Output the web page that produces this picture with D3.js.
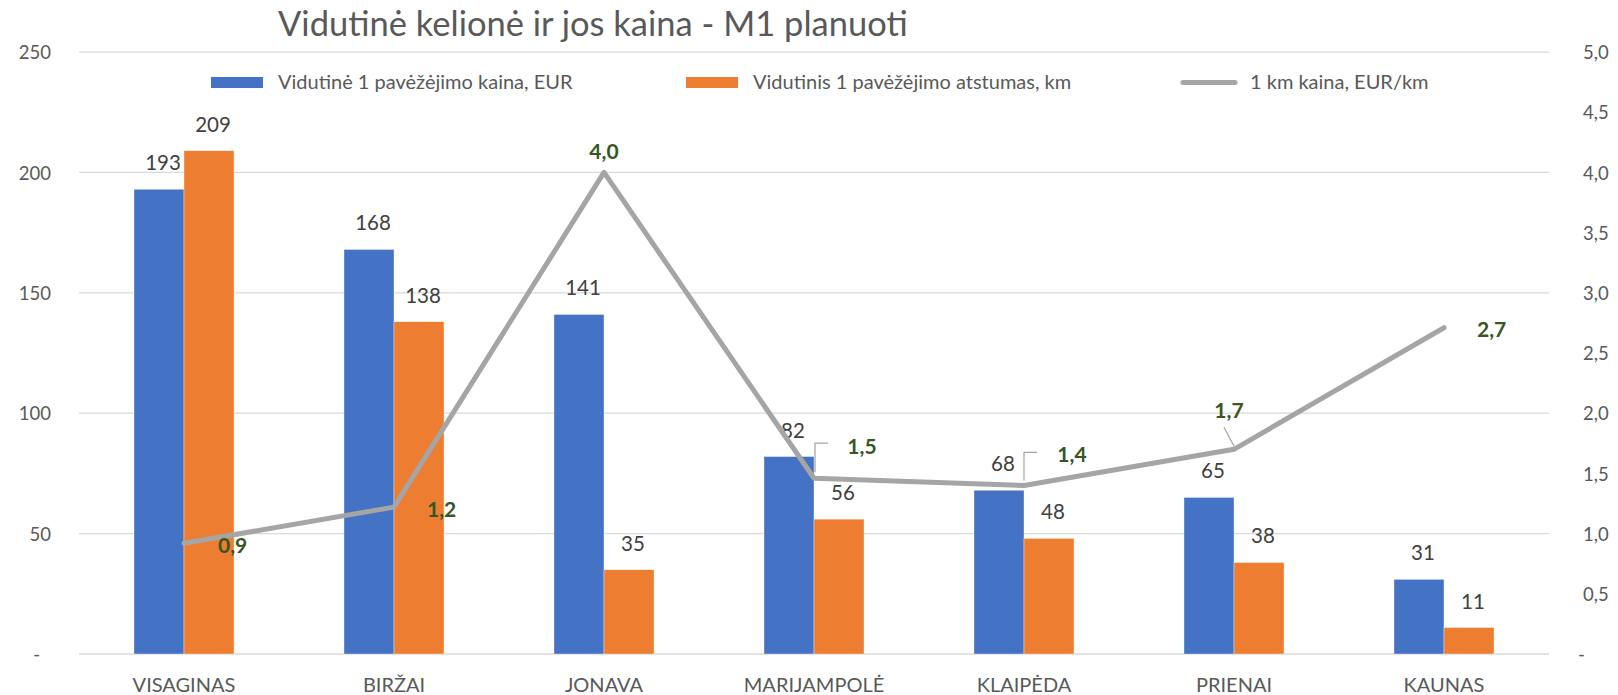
<!DOCTYPE html>
<html>
<head>
<meta charset="utf-8">
<script src="https://cdn.jsdelivr.net/npm/d3@7"></script>
<style>
  html, body { margin: 0; padding: 0; background: #fff; }
  svg { display: block; font-family: Lato, "Open Sans", sans-serif; }
  svg text { font-family: Lato, "Open Sans", sans-serif; }
</style>
</head>
<body>
<svg id="chart" width="1618" height="695"></svg>
<script>
// ---- data ----
const title = "Vidutinė kelionė ir jos kaina - M1 planuoti";
const categories = ["VISAGINAS", "BIRŽAI", "JONAVA", "MARIJAMPOLĖ", "KLAIPĖDA", "PRIENAI", "KAUNAS"];
const seriesNames = ["Vidutinė 1 pavėžėjimo kaina, EUR", "Vidutinis 1 pavėžėjimo atstumas, km", "1 km kaina, EUR/km"];
const priceEUR = [193, 168, 141, 82, 68, 65, 31];
const distanceKm = [209, 138, 35, 56, 48, 38, 11];
const pricePerKm = [0.92, 1.22, 4.0, 1.46, 1.40, 1.70, 2.71];
const leftTicks = [0, 50, 100, 150, 200, 250];
const rightTicks = [0, 0.5, 1, 1.5, 2, 2.5, 3, 3.5, 4, 4.5, 5];

// ---- layout ----
const plot = { left: 79, right: 1549, top: 52, bottom: 654 };
const colors = { blue: "#4472C4", orange: "#ED7D31", gray: "#A5A5A5", green: "#375623", grid: "#D9D9D9", axis: "#595959", label: "#404040" };
// per-point label placement for the line series
const lineLabelLayout = [
  { mode: "right", dx: 34, dy: 2 },
  { mode: "right", dx: 33, dy: 2 },
  { mode: "above", dx: 0, dy: -13 },
  { mode: "leader", dx: 48, dy: -32, leader: [[1, -6], [1, -35], [14, -35]] },
  { mode: "leader", dx: 48, dy: -31, leader: [[0, -5], [0, -33], [13, -33]] },
  { mode: "leader", dx: -5, dy: -39, leader: [[0, -3], [-10, -22]] },
  { mode: "right", dx: 33, dy: 2 }
];

const svg = d3.select("#chart");

const x0 = d3.scaleBand().domain(categories).range([plot.left, plot.right]).padding(0);
const x1 = d3.scaleBand().domain([0, 1]).range([0, x0.bandwidth()]).paddingInner(0).paddingOuter(1.1);
const yL = d3.scaleLinear().domain([0, 250]).range([plot.bottom, plot.top]);
const yR = d3.scaleLinear().domain([0, 5]).range([plot.bottom, plot.top]);

const fmtL = v => v === 0 ? "-" : String(v);
const fmtR = v => v === 0 ? "-" : v.toFixed(1).replace(".", ",");

// gridlines
svg.append("g").selectAll("line").data(leftTicks).join("line")
  .attr("x1", plot.left).attr("x2", plot.right)
  .attr("y1", d => yL(d)).attr("y2", d => yL(d))
  .attr("stroke", colors.grid).attr("stroke-width", d => d === 0 ? 1.5 : 1.25);

// left axis
const axL = d3.axisLeft(yL).tickValues(leftTicks).tickFormat(fmtL).tickSize(0).tickPadding(0);
const gL = svg.append("g").attr("transform", `translate(51,0)`).call(axL).attr("font-family", null).attr("font-size", null);
gL.select(".domain").remove();
gL.selectAll("text").attr("fill", colors.axis).style("font-size", "18.5px").attr("dy", "0.36em")
  .attr("dx", d => d === 0 ? -11 : 0);

// right axis
const axR = d3.axisRight(yR).tickValues(rightTicks).tickFormat(fmtR).tickSize(0).tickPadding(0);
const gR = svg.append("g").attr("transform", `translate(1583,0)`).call(axR).attr("font-family", null).attr("font-size", null);
gR.select(".domain").remove();
gR.selectAll("text").attr("fill", colors.axis).style("font-size", "18.5px").attr("dy", "0.36em")
  .attr("dx", d => d === 0 ? -5 : 0);

// category axis
const axB = d3.axisBottom(x0).tickSize(0).tickPadding(0);
const gB = svg.append("g").attr("transform", `translate(0,692)`).call(axB).attr("font-family", null).attr("font-size", null);
gB.select(".domain").remove();
gB.selectAll("text").attr("fill", colors.axis).style("font-size", "20px").attr("dy", 0).attr("y", 0);

// bars
const barSeries = [{ values: priceEUR, color: colors.blue }, { values: distanceKm, color: colors.orange }];
barSeries.forEach((s, si) => {
  const g = svg.append("g");
  g.selectAll("rect").data(categories).join("rect")
    .attr("x", c => x0(c) + x1(si))
    .attr("width", x1.bandwidth())
    .attr("y", (c, i) => yL(s.values[i]))
    .attr("height", (c, i) => yL(0) - yL(s.values[i]))
    .attr("fill", s.color)
    .attr("stroke", "#fff").attr("stroke-width", 0.6).attr("stroke-opacity", 0.6);
  g.selectAll("text").data(categories).join("text")
    .attr("x", c => x0(c) + x1(si) + x1.bandwidth() / 2 + 4)
    .attr("y", (c, i) => yL(s.values[i]) - 19)
    .attr("text-anchor", "middle")
    .attr("fill", colors.label)
    .style("font-size", "20.5px")
    .text((c, i) => s.values[i]);
});

// line
const cx = c => x0(c) + x0.bandwidth() / 2;
const line = d3.line().x((d, i) => cx(categories[i])).y(d => yR(d));
svg.append("path").datum(pricePerKm).attr("d", line)
  .attr("fill", "none").attr("stroke", colors.gray).attr("stroke-width", 5)
  .attr("stroke-linejoin", "round").attr("stroke-linecap", "round");

// line labels
const gLL = svg.append("g");
pricePerKm.forEach((v, i) => {
  const px = cx(categories[i]), py = yR(v);
  const L = lineLabelLayout[i];
  const t = gLL.append("text")
    .attr("fill", colors.green).style("font-size", "21px").style("font-weight", "bold")
    .text(fmtR(v));
  if (L.mode === "right") {
    t.attr("x", px + L.dx).attr("y", py + L.dy).attr("dy", "0.36em").attr("text-anchor", "start");
  } else if (L.mode === "above") {
    t.attr("x", px + L.dx).attr("y", py + L.dy).attr("text-anchor", "middle");
  } else {
    t.attr("x", px + L.dx).attr("y", py + L.dy).attr("dy", "0.36em").attr("text-anchor", "middle");
    gLL.append("path")
      .attr("d", d3.line()(L.leader.map(p => [px + p[0], py + p[1]])))
      .attr("fill", "none").attr("stroke", colors.gray).attr("stroke-width", 1.25);
  }
});

// title
svg.append("text").attr("x", 278).attr("y", 36)
  .attr("fill", colors.axis).style("font-size", "34.5px").text(title);

// legend
const legendItems = [
  { name: seriesNames[0], type: "rect", color: colors.blue, sx: 211, tx: 278 },
  { name: seriesNames[1], type: "rect", color: colors.orange, sx: 686, tx: 753 },
  { name: seriesNames[2], type: "line", color: colors.gray, sx: 1181, tx: 1250 }
];
const gLeg = svg.append("g");
legendItems.forEach(it => {
  if (it.type === "rect") {
    gLeg.append("rect").attr("x", it.sx).attr("y", 77).attr("width", 52).attr("height", 11).attr("fill", it.color);
  } else {
    gLeg.append("line").attr("x1", it.sx + 2).attr("x2", it.sx + 54).attr("y1", 82.5).attr("y2", 82.5)
      .attr("stroke", it.color).attr("stroke-width", 5).attr("stroke-linecap", "round");
  }
  gLeg.append("text").attr("x", it.tx).attr("y", 89).attr("fill", colors.axis)
    .style("font-size", "20px").text(it.name);
});
</script>
</body>
</html>
